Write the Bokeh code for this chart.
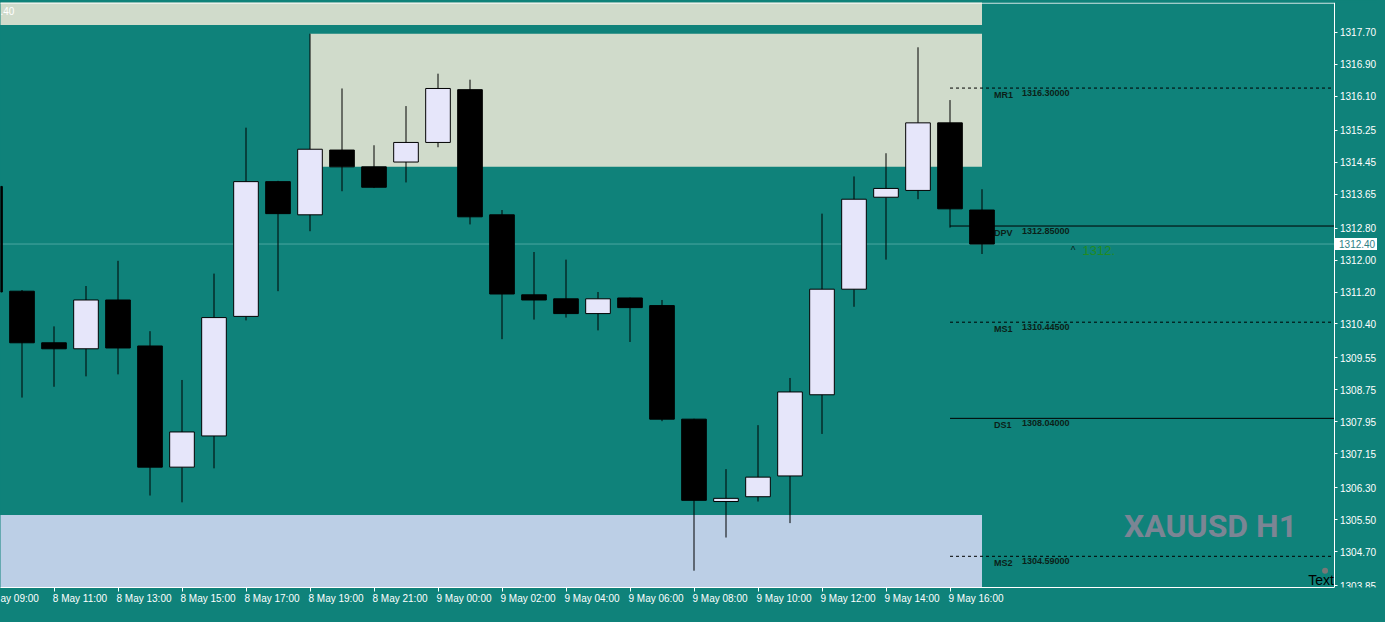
from bokeh.plotting import figure
from bokeh.models import LinearAxis, FixedTicker, PrintfTickFormatter, ColumnDataSource
from bokeh.core.properties import value
from bokeh.embed import file_html
from bokeh.resources import INLINE

# ---------------- data ----------------
bar_times = ["8 May 09:00", "8 May 10:00", "8 May 11:00", "8 May 12:00", "8 May 13:00",
             "8 May 14:00", "8 May 15:00", "8 May 16:00", "8 May 17:00", "8 May 18:00",
             "8 May 19:00", "8 May 20:00", "8 May 21:00", "8 May 22:00", "9 May 00:00",
             "9 May 01:00", "9 May 02:00", "9 May 03:00", "9 May 04:00", "9 May 05:00",
             "9 May 06:00", "9 May 07:00", "9 May 08:00", "9 May 09:00", "9 May 10:00",
             "9 May 11:00", "9 May 12:00", "9 May 13:00", "9 May 14:00", "9 May 15:00",
             "9 May 16:00", "9 May 17:00"]
opens = [1313.84, 1311.22, 1309.93, 1309.78, 1311.00, 1309.85, 1306.82, 1307.60,
         1310.59, 1313.96, 1313.13, 1314.75, 1314.33, 1314.45, 1314.94, 1316.26,
         1313.13, 1311.13, 1311.03, 1310.66, 1311.05, 1310.86, 1308.02, 1305.96,
         1306.08, 1306.60, 1308.63, 1311.27, 1313.57, 1313.74, 1315.43, 1313.25]
highs = [1314.20, 1311.25, 1310.34, 1311.35, 1311.98, 1310.22, 1309.00, 1311.66,
         1315.31, 1313.98, 1317.66, 1316.29, 1314.87, 1315.85, 1316.66, 1316.51,
         1313.25, 1312.20, 1312.01, 1311.20, 1311.06, 1311.00, 1308.03, 1306.77,
         1307.87, 1309.05, 1313.16, 1314.09, 1314.67, 1317.32, 1316.00, 1313.77]
lows = [1310.90, 1308.56, 1308.83, 1309.09, 1309.14, 1306.11, 1305.94, 1306.79,
        1310.49, 1311.22, 1312.72, 1313.72, 1313.80, 1313.94, 1314.82, 1312.89,
        1310.02, 1310.51, 1310.56, 1310.24, 1309.95, 1307.97, 1304.23, 1305.06,
        1305.96, 1305.42, 1307.65, 1310.83, 1312.01, 1313.52, 1312.81, 1312.15]
closes = [1311.20, 1309.93, 1309.78, 1311.00, 1309.80, 1306.82, 1307.70, 1310.56,
          1313.96, 1313.16, 1314.77, 1314.33, 1313.82, 1314.94, 1316.29, 1313.08,
          1311.15, 1311.00, 1310.66, 1311.03, 1310.81, 1308.02, 1305.99, 1306.04,
          1306.57, 1308.70, 1311.27, 1313.52, 1313.79, 1315.43, 1313.28, 1312.40]

price_ticks = ["1317.70", "1316.90", "1316.10", "1315.25", "1314.45", "1313.65",
               "1312.80", "1312.00", "1311.20", "1310.40", "1309.55", "1308.75",
               "1307.95", "1307.15", "1306.30", "1305.50", "1304.70", "1303.85"]

# supply / demand zones (bar index span, price span)
zone_left = [-2, 10, -2]
zone_right = [31, 31, 31]
zone_top = [1318.60, 1317.66, 1305.62]
zone_bottom = [1317.88, 1314.33, 1303.00]
zone_kind = ["supply", "supply", "demand"]

# daily pivot levels
pivot_names = ["MR1", "DPV", "MS1", "DS1", "MS2"]
pivot_levels = [1316.30, 1312.85, 1310.445, 1308.04, 1304.59]
pivot_dashed = [True, False, True, False, True]
pivot_start_bar = 30

bid_price = 1312.40
symbol_title = "XAUUSD H1"

# ---------------- styles ----------------
TEAL = "#0F827A"
SUPPLY = "#D0DBCB"
DEMAND = "#BCCFE6"
BULL = "#E6E6FA"
BEAR = "#000000"
FONT = "Liberation Sans"
DARK = "#0B1F18"

W, H = 1377, 606
BAR_PX = 32.0
x_start = 0.328
x_end = x_start + W / BAR_PX
axis_x = 42.0          # bar-index position of the price scale line
y_start, y_end = 1303.81, 1318.44

p = figure(width=W, height=H, x_range=(x_start, x_end), y_range=(y_start, y_end),
           output_backend="svg", toolbar_location=None,
           x_axis_location=None, y_axis_location=None)
p.background_fill_color = TEAL
p.border_fill_color = TEAL
p.outline_line_color = None
p.grid.visible = False
p.min_border_left = 0
p.min_border_top = 2
p.min_border_right = 0
p.min_border_bottom = 0

# zones
zsrc = ColumnDataSource(dict(left=zone_left, right=zone_right, top=zone_top,
                             bottom=zone_bottom,
                             color=[SUPPLY if k == "supply" else DEMAND for k in zone_kind]))
p.quad(left="left", right="right", top="top", bottom="bottom", fill_color="color",
       line_color=None, source=zsrc)

# bid line
p.segment(x0=[x_start - 1], x1=[axis_x], y0=[bid_price], y1=[bid_price],
          line_color="#4CA7A0", line_width=1)
# top frame line
p.segment(x0=[x_start - 1], x1=[axis_x], y0=[y_end - 0.015], y1=[y_end - 0.015],
          line_color="white", line_width=1)

# pivot lines and labels
for name, lvl, dashed in zip(pivot_names, pivot_levels, pivot_dashed):
    p.segment(x0=[pivot_start_bar], x1=[axis_x], y0=[lvl], y1=[lvl],
              line_color="black", line_width=1,
              line_dash="3 3" if dashed else "solid")
    p.text(x=[pivot_start_bar], y=[lvl], text=[name], x_offset=44, y_offset=2,
           text_font=value(FONT), text_font_size="9px", text_font_style="bold",
           text_color=DARK, text_baseline="top", text_align="left")
    p.text(x=[pivot_start_bar], y=[lvl], text=[f"{lvl:.5f}"], x_offset=72, y_offset=2,
           text_font=value(FONT), text_font_size="9px", text_font_style="bold",
           text_color=DARK, text_baseline="top", text_align="left")

# candles
idx = list(range(len(bar_times)))
csrc = ColumnDataSource(dict(
    x=idx, h=highs, l=lows,
    top=[max(o, c) for o, c in zip(opens, closes)],
    bottom=[min(o, c) for o, c in zip(opens, closes)],
    fill=[BULL if c >= o else BEAR for o, c in zip(opens, closes)]))
p.segment(x0="x", x1="x", y0="h", y1="l", line_color="black", line_width=1, source=csrc)
p.vbar(x="x", width=0.77, top="top", bottom="bottom", fill_color="fill",
       line_color="black", line_width=1, source=csrc)

# texts
p.text(x=[x_start], y=[1318.23], text=[".40"], text_font=value(FONT), text_font_size="10px",
       text_color="white", text_baseline="middle", text_align="left")
p.text(x=[33.77], y=[1312.25], text=["^"], text_font=value(FONT), text_font_size="10px",
       text_color=DARK, text_baseline="middle", text_align="left")
p.text(x=[34.14], y=[1312.23], text=["1312."], text_font=value(FONT), text_font_size="13px",
       text_color="#228B22", text_baseline="middle", text_align="left")
p.text(x=[38.14], y=[1305.34], text=[symbol_title], text_font=value("Roboto"),
       text_font_size="32px", text_font_style="bold", text_color="#7B8594",
       text_baseline="middle", text_align="center")
p.scatter(x=[41.72], y=[1304.23], size=6, fill_color="#777777", line_color=None)
p.text(x=[axis_x], y=[1304.00], text=["Text"], text_font=value(FONT), text_font_size="14px",
       text_color="black", text_baseline="middle", text_align="right")

# bid price tag on the price scale
tag_half = 0.15
p.quad(left=[axis_x], right=[x_end + 1], top=[bid_price + tag_half],
       bottom=[bid_price - tag_half], fill_color="white", line_color=None)
p.text(x=[axis_x], y=[bid_price], text=[f"{bid_price:.2f}"], x_offset=5,
       text_font=value(FONT), text_font_size="10px", text_color="#2E7F86",
       text_baseline="middle", text_align="left")

# price scale (drawn at a fixed location so the bid tag can sit on it)
yaxis = LinearAxis(ticker=FixedTicker(ticks=[float(t) for t in price_ticks]),
                   formatter=PrintfTickFormatter(format="%.2f"),
                   fixed_location=axis_x,
                   axis_line_color="white", major_tick_line_color="white",
                   major_tick_out=3, major_tick_in=0, minor_tick_line_color=None,
                   major_label_text_color="white", major_label_text_font=FONT,
                   major_label_text_font_size="10px", major_label_standoff=3)
p.add_layout(yaxis, "right")

# time axis: tick marks at bar positions (minor), labels starting at the tick (major)
tick_x = idx[::2]
tick_labels = bar_times[::2]
tick_labels[0] = "ay 09:00"   # first label is cut by the left edge in the reference
shift = 0.8125
label_pos = [t + shift for t in tick_x]
xaxis = LinearAxis(ticker=FixedTicker(ticks=label_pos, minor_ticks=tick_x),
                   major_label_overrides={pos: lab for pos, lab in zip(label_pos, tick_labels)},
                   bounds=(x_start, axis_x),
                   axis_line_color="white", major_tick_line_color=None,
                   major_tick_out=4, major_tick_in=0,
                   minor_tick_line_color="white", minor_tick_out=4, minor_tick_in=0,
                   major_label_standoff=1,
                   major_label_text_color="white", major_label_text_font=FONT,
                   major_label_text_font_size="10px")
p.add_layout(xaxis, "below")

html = file_html(p, INLINE, title=symbol_title)
html = html.replace("</head>", "<style>html,body{background:#0F827A;}</style></head>", 1)
open("out.html", "w").write(html)
